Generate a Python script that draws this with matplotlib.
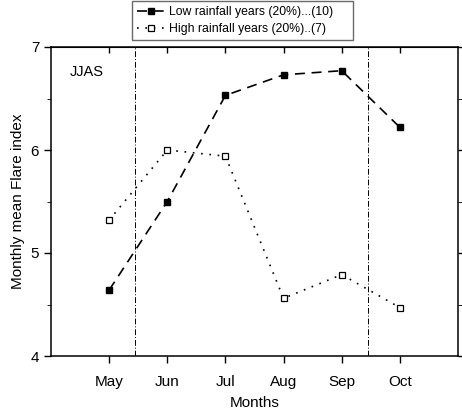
import matplotlib.pyplot as plt
from matplotlib.ticker import MultipleLocator

plt.rcParams['font.family'] = ['Liberation Sans', 'DejaVu Sans']

months = [5, 6, 7, 8, 9, 10]
month_labels = ["May", "Jun", "Jul", "Aug", "Sep", "Oct"]
low_rain = [4.64, 5.50, 6.53, 6.73, 6.77, 6.22]
high_rain = [5.32, 6.00, 5.94, 4.56, 4.79, 4.47]
jjas_bounds = [5.45, 9.45]

fig = plt.figure(figsize=(4.62, 4.12), dpi=100)
ax = fig.add_axes([51 / 462, 1 - 356 / 412, 407 / 462, 309 / 412])

ax.plot(months, low_rain, linestyle=(0, (6, 4)), color="black", linewidth=1.2,
        marker="s", markersize=5, markerfacecolor="black",
        label="Low rainfall years (20%)...(10)")
ax.plot(months, high_rain, linestyle=(0, (1, 4)), color="black", linewidth=1.2,
        marker="s", markersize=5, markerfacecolor="white", markeredgewidth=0.9,
        label="High rainfall years (20%)..(7)")

for xb in jjas_bounds:
    ax.axvline(xb, color="black", linestyle="-.", linewidth=0.7, dashes=(6, 2, 1, 2))

ax.text(0.047, 0.905, "JJAS", transform=ax.transAxes, fontsize=10.5)

ax.set_xlim(4, 11)
ax.set_ylim(4, 7)
ax.set_xticks(months)
ax.set_xticklabels(month_labels, fontsize=11)
ax.set_yticks([4, 5, 6, 7])
ax.yaxis.set_minor_locator(MultipleLocator(0.5))
ax.tick_params(axis="both", labelsize=11, width=1)
ax.tick_params(axis="x", which="major", direction="out", length=5, pad=9)
ax.tick_params(axis="y", which="major", direction="out", length=5, right=True)
ax.tick_params(axis="y", which="minor", direction="out", length=3, right=True)
for s in ax.spines.values():
    s.set_linewidth(1.1)

# top axis: inward ticks at the month positions
top = ax.secondary_xaxis("top")
top.set_xticks(months)
top.tick_params(direction="in", length=4, width=1, labeltop=False)

ax.set_xlabel("Months", fontsize=11, labelpad=5)
ax.set_ylabel("Monthly mean Flare index", fontsize=11)

leg = ax.legend(loc="upper left",
                bbox_to_anchor=(132 / 462, 1 - 44 / 412, 221 / 462, 43 / 412),
                bbox_transform=fig.transFigure, borderaxespad=0, mode="expand",
                fontsize=8.8, frameon=True, fancybox=False, edgecolor="#444444",
                handlelength=2.3, borderpad=0.4, labelspacing=0.45,
                handletextpad=0.3)
leg.get_frame().set_linewidth(1.0)

fig.savefig("out.png", dpi=100)
